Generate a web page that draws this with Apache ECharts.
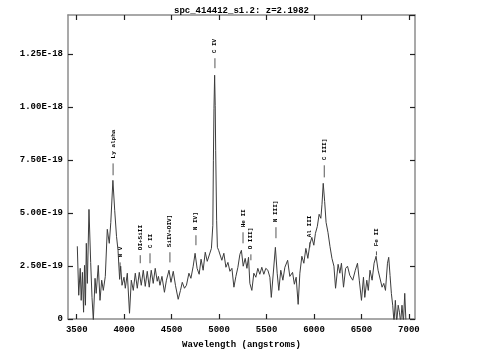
<!DOCTYPE html>
<html>
<head>
<meta charset="utf-8">
<script src="https://cdn.jsdelivr.net/npm/echarts@6.0.0/dist/echarts.min.js"></script>
<style>
  html, body { margin: 0; padding: 0; background: #fff; }
  #spectrum { width: 483px; height: 358px; }
</style>
</head>
<body>
<div id="spectrum"></div>
<script>
// flux in units of 1e-19 (erg/s/cm2/A)
var waves = [
  3506, 3521, 3537, 3547, 3560, 3572, 3582, 3592, 3601, 3612, 3629, 3647, 3661, 3675, 3693, 3705,
  3727, 3745, 3763, 3780, 3801, 3822, 3843, 3859, 3881, 3900, 3919, 3935, 3952, 3963, 3977, 3998,
  4012, 4033, 4056, 4075, 4096, 4117, 4138, 4159, 4180, 4201, 4222, 4243, 4264, 4285, 4306, 4327,
  4348, 4361, 4377, 4398, 4424, 4445, 4472, 4493, 4517, 4540, 4569, 4593, 4612, 4635, 4656, 4682,
  4703, 4727, 4747, 4768, 4790, 4810, 4832, 4854, 4875, 4896, 4919, 4934, 4940, 4946, 4953, 4959,
  4964, 4974, 4982, 4995, 5008, 5029, 5050, 5072, 5093, 5114, 5135, 5156, 5177, 5198, 5219, 5235,
  5254, 5275, 5293, 5310, 5324, 5345, 5366, 5387, 5408, 5429, 5450, 5471, 5492, 5514, 5535, 5550,
  5569, 5593, 5612, 5629, 5650, 5672, 5693, 5722, 5745, 5774, 5793, 5812, 5833, 5851, 5872, 5893,
  5914, 5935, 5956, 5977, 5998, 6015, 6035, 6054, 6072, 6084, 6097, 6112, 6127, 6147, 6168, 6189,
  6210, 6227, 6254, 6272, 6289, 6311, 6333, 6353, 6377, 6408, 6435, 6458, 6477, 6500, 6521, 6535,
  6556, 6572, 6590, 6612, 6633, 6654, 6675, 6696, 6717, 6735, 6753, 6774, 6787, 6801, 6815, 6829,
  6843, 6857, 6871, 6887, 6900, 6913, 6927, 6942, 6956, 6969
];
var flux = [
  34.3, 11.2, 23.9, 8.8, 22.0, 3.2, 25.3, 6.5, 35.7, 16.8, 51.7, 26.7, 10.2, -0.6, 19.2, 12.1,
  25.3, 8.8, 18.3, 13.5, 20.1, 42.3, 35.7, 45.6, 65.4, 51.3, 39.0, 32.4, 18.7, 24.9, 15.9, 19.7,
  14.5, 21.6, 2.7, 18.3, 13.5, 21.6, 14.5, 22.0, 15.9, 23.0, 15.4, 22.5, 15.0, 23.0, 16.8, 23.9,
  17.8, 20.1, 15.9, 20.1, 12.6, 18.3, 23.0, 17.3, 22.5, 15.9, 9.3, 13.5, 17.3, 14.5, 15.9, 21.6,
  19.2, 24.9, 31.0, 23.9, 21.1, 28.2, 23.0, 31.5, 27.2, 26.7, 33.3, 44.2, 74.9, 99.4, 115.0, 100.8,
  79.6, 46.6, 33.8, 32.4, 31.5, 27.7, 31.0, 24.4, 26.7, 22.5, 23.9, 15.0, 20.1, 24.4, 30.5, 32.4,
  24.9, 28.6, 23.9, 29.1, 16.8, 13.5, 21.6, 19.7, 23.9, 21.1, 24.4, 21.1, 23.9, 23.0, 19.7, 10.2,
  9.8, 33.8, 21.6, 13.5, 23.0, 18.3, 24.4, 27.7, 20.1, 22.0, 16.4, 19.7, 6.9, 21.6, 29.6, 26.3,
  33.3, 28.6, 35.2, 38.5, 34.8, 40.4, 43.7, 49.4, 47.5, 54.1, 64.0, 55.5, 45.6, 40.9, 34.3, 28.6,
  24.9, 14.5, 25.8, 21.6, 26.3, 15.0, 23.9, 24.9, 20.6, 18.3, 23.0, 26.3, 18.3, 8.8, 19.7, 10.2,
  18.3, 13.5, 23.0, 18.3, 26.3, 29.6, 23.0, 23.9, 15.0, 16.8, 13.5, 26.3, 29.1, 20.6, 12.1, 6.5,
  -1.6, 8.8, -1.6, 6.5, 3.2, -1.6, 6.5, -1.6, 12.1, -1.6
];

// identified lines: name, observed wavelength, marker bottom / top (flux units)
var lineNames = ["Ly alpha", "N V", "OI+SiII", "C II", "SiIV+OIV]", "N IV]", "C IV",
                 "He II", "O III]", "N III]", "Al III", "C III]", "Fe II"];
var lineWaves = [3883, 3957, 4169, 4272, 4482, 4756, 4956, 5252, 5335, 5599, 5956, 6108, 6658];
var lineLow = [67.8, 22.5, 26.3, 26.3, 26.7, 34.8, 118.3, 35.7, 27.7, 38.1, 33.8, 66.8, 30.0];
var lineHigh = [73.4, 26.7, 30.1, 31.0, 31.5, 39.5, 123.0, 40.9, 30.5, 43.3, 36.2, 72.5, 31.9];

var xTicks = [3500, 4000, 4500, 5000, 5500, 6000, 6500, 7000];
var yTicks = [0, 25, 50, 75, 100, 125];
var yTickLabels = ["0", "2.50E-19", "5.00E-19", "7.50E-19", "1.00E-18", "1.25E-18"];

var FONT = "Liberation Mono";
var frame = { show: true, onZero: false, lineStyle: { color: "#8c8c8c", width: 1.5 } };
var inTick = { show: true, inside: true, length: 5, lineStyle: { color: "#222", width: 1.2 } };

var chart = echarts.init(document.getElementById("spectrum"), null, { renderer: "canvas" });

chart.setOption({
  animation: false,
  backgroundColor: "#fff",
  title: {
    text: "spc_414412_s1.2: z=2.1982",
    left: "center",
    top: 1,
    textStyle: { fontFamily: FONT, fontSize: 9, fontWeight: "bold", color: "#000" }
  },
  grid: { left: 68, right: 68, top: 15, bottom: 39, containLabel: false },
  xAxis: [
    {
      type: "value",
      min: 3408,
      max: 7064,
      name: "Wavelength (angstroms)",
      nameLocation: "middle",
      nameGap: 21,
      nameTextStyle: { fontFamily: FONT, fontSize: 9, fontWeight: "bold", color: "#000" },
      axisLine: frame,
      axisTick: Object.assign({ customValues: xTicks }, inTick),
      axisLabel: {
        customValues: xTicks,
        margin: 6,
        fontFamily: FONT,
        fontSize: 9,
        fontWeight: "bold",
        color: "#000",
        formatter: function (v) { return String(v); }
      },
      splitLine: { show: false }
    },
    {
      type: "value",
      position: "top",
      min: 3408,
      max: 7064,
      axisLine: frame,
      axisTick: Object.assign({ customValues: xTicks }, inTick),
      axisLabel: { show: false },
      splitLine: { show: false }
    }
  ],
  yAxis: [
    {
      type: "value",
      min: 0,
      max: 143.4,
      interval: 25,
      axisLine: frame,
      axisTick: inTick,
      axisLabel: {
        margin: 5,
        fontFamily: FONT,
        fontSize: 9,
        fontWeight: "bold",
        color: "#000",
        showMaxLabel: false,
        formatter: function (v) {
          var i = yTicks.indexOf(v);
          return i < 0 ? "" : yTickLabels[i];
        }
      },
      splitLine: { show: false }
    },
    {
      type: "value",
      position: "right",
      min: 0,
      max: 143.4,
      interval: 25,
      axisLine: frame,
      axisTick: inTick,
      axisLabel: { show: false },
      splitLine: { show: false }
    }
  ],
  series: [
    {
      type: "line",
      data: waves.map(function (w, i) { return [w, flux[i]]; }),
      showSymbol: false,
      clip: true,
      lineStyle: { color: "#3c3c3c", width: 1 }
    },
    {
      type: "custom",
      data: lineNames.map(function (n, i) { return [lineWaves[i], lineLow[i], lineHigh[i], n]; }),
      renderItem: function (params, api) {
        var lo = api.coord([api.value(0), api.value(1)]);
        var hi = api.coord([api.value(0), api.value(2)]);
        return {
          type: "group",
          children: [
            {
              type: "line",
              shape: { x1: lo[0], y1: lo[1], x2: hi[0], y2: hi[1] },
              style: { stroke: "#555", lineWidth: 1 }
            },
            {
              type: "text",
              x: hi[0],
              y: hi[1] - 5,
              rotation: Math.PI / 2,
              style: {
                text: lineNames[params.dataIndex],
                fontFamily: FONT,
                fontSize: 6,
                fontWeight: "bold",
                fill: "#000",
                align: "left",
                verticalAlign: "middle"
              }
            }
          ]
        };
      },
      clip: false,
      z: 3
    }
  ]
});
</script>
</body>
</html>
